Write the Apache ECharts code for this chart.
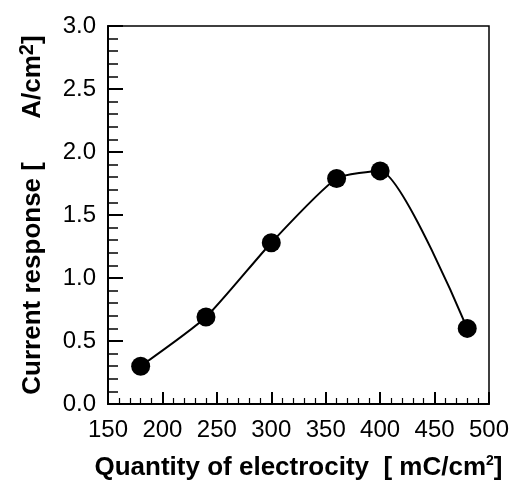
<!DOCTYPE html>
<html>
<head>
<meta charset="UTF-8">
<title>Current response vs quantity of electricity</title>
<script src="https://cdn.jsdelivr.net/npm/echarts@6/dist/echarts.min.js"></script>
<style>
body { margin: 0; padding: 0; background: #fff; }
#main { width: 514px; height: 486px; }
</style>
</head>
<body>
<div id="main"></div>
<script>
// charge passed (mC/cm2) and measured current response
var charge = [180, 240, 300, 360, 400, 480];
var response = [0.3, 0.69, 1.28, 1.79, 1.85, 0.6];

var pts = charge.map(function (c, i) { return [c, response[i]]; });

var myChart = echarts.init(document.getElementById('main'));
var font = 'Liberation Sans, Arial, sans-serif';
var option = {
    animation: false,
    grid: {
        left: 108, right: 25, top: 26, bottom: 81,
        show: true, borderColor: '#000', borderWidth: 1.5, backgroundColor: 'transparent'
    },
    xAxis: {
        type: 'value',
        min: 150, max: 500, interval: 50,
        name: 'Quantity of electrocity  [ mC/cm{s|2}]',
        nameLocation: 'middle',
        nameGap: 50,
        nameTextStyle: {
            fontFamily: font, fontSize: 26, fontWeight: 'bold', color: '#000',
            rich: { s: { fontSize: 14, fontWeight: 'bold', verticalAlign: 'top', lineHeight: 28, fontFamily: font } }
        },
        axisLine: { lineStyle: { color: '#000', width: 2 } },
        axisTick: { inside: true, length: 12, lineStyle: { color: '#000', width: 2 } },
        minorTick: { show: true, splitNumber: 5, length: 6, lineStyle: { color: '#000', width: 1.2 } },
        axisLabel: { fontFamily: font, fontSize: 24, color: '#000', margin: 14 },
        splitLine: { show: false }
    },
    yAxis: {
        type: 'value',
        min: 0, max: 3, interval: 0.5,
        name: 'Current response [      A/cm{s|2}]',
        nameLocation: 'middle',
        nameGap: 59,
        nameRotate: 90,
        nameTextStyle: {
            fontFamily: font, fontSize: 26, fontWeight: 'bold', color: '#000',
            rich: { s: { fontSize: 20, fontWeight: 'bold', verticalAlign: 'top', lineHeight: 32, fontFamily: font } }
        },
        axisLine: { lineStyle: { color: '#000', width: 2 } },
        axisTick: { inside: true, length: 15, lineStyle: { color: '#000', width: 2 } },
        minorTick: { show: true, splitNumber: 5, length: 10, lineStyle: { color: '#000', width: 1.5 } },
        axisLabel: {
            fontFamily: font, fontSize: 24, color: '#000', margin: 12,
            formatter: function (v) { return v.toFixed(1); }
        },
        splitLine: { show: false }
    },
    series: [{
        type: 'line',
        data: pts,
        smooth: 0.2,
        symbol: 'circle',
        symbolSize: 19,
        itemStyle: { color: '#000' },
        lineStyle: { color: '#000', width: 2 }
    }]
};
myChart.setOption(option);
</script>
</body>
</html>
